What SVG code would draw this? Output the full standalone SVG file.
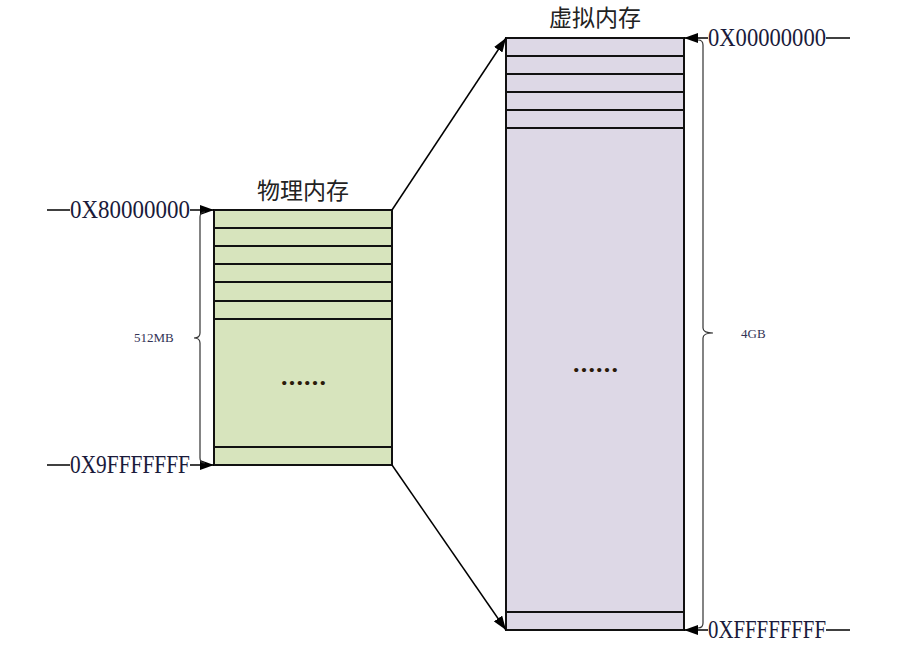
<svg xmlns="http://www.w3.org/2000/svg" width="903" height="648" viewBox="0 0 903 648">
<style>
.lbl{font-family:"Liberation Serif","Noto Sans CJK SC",serif;font-size:25px;fill:#1a1a3a}
.title{font-family:"Noto Sans CJK SC","Liberation Serif",sans-serif;font-size:23px;fill:#222}
.small{font-family:"Liberation Serif",serif;font-size:13px;fill:#333355}
.box line,.box rect{stroke:#111;stroke-width:2}
.brace{fill:none;stroke:#333;stroke-width:1.2}
.dots{font-family:"Liberation Serif",serif;font-size:26px;font-weight:bold;fill:#2a1a0a}
.conn{stroke:#000;stroke-width:1.5;fill:none}
</style>
<defs>
<marker id="ah2" markerWidth="14" markerHeight="10" refX="14" refY="5" orient="auto" markerUnits="userSpaceOnUse">
<path d="M0,0 L14,5 L0,10 Z" fill="#000"/>
</marker>
</defs>
<g id="physical" class="box">
<text class="title" x="303" y="199" text-anchor="middle">物理内存</text>
<rect x="214" y="210" width="178" height="255" fill="#D7E4BD"/>
<line x1="214" y1="228" x2="392" y2="228"/>
<line x1="214" y1="246" x2="392" y2="246"/>
<line x1="214" y1="264" x2="392" y2="264"/>
<line x1="214" y1="282" x2="392" y2="282"/>
<line x1="214" y1="301" x2="392" y2="301"/>
<line x1="214" y1="319" x2="392" y2="319"/>
<line x1="214" y1="447" x2="392" y2="447"/>
<text class="dots" x="281" y="385" textLength="45" lengthAdjust="spacing">......</text>
</g>
<g id="virtual" class="box">
<text class="title" x="595" y="26" text-anchor="middle">虚拟内存</text>
<rect x="506" y="38" width="178" height="592" fill="#DDD8E6"/>
<line x1="506" y1="56" x2="684" y2="56"/>
<line x1="506" y1="74" x2="684" y2="74"/>
<line x1="506" y1="92" x2="684" y2="92"/>
<line x1="506" y1="110" x2="684" y2="110"/>
<line x1="506" y1="128" x2="684" y2="128"/>
<line x1="506" y1="612" x2="684" y2="612"/>
<text class="dots" x="573" y="372" textLength="45" lengthAdjust="spacing">......</text>
</g>
<g id="label-80000000">
<line x1="47" y1="210" x2="70" y2="210" stroke="#000" stroke-width="1.5"/>
<text class="lbl" x="70" y="218" textLength="120" lengthAdjust="spacingAndGlyphs">0X80000000</text>
<line x1="190" y1="210" x2="214" y2="210" class="conn" marker-end="url(#ah2)"/>
</g>
<g id="label-9FFFFFFF">
<line x1="47" y1="465" x2="70" y2="465" stroke="#000" stroke-width="1.5"/>
<text class="lbl" x="70" y="473" textLength="120" lengthAdjust="spacingAndGlyphs">0X9FFFFFFF</text>
<line x1="190" y1="465" x2="214" y2="465" class="conn" marker-end="url(#ah2)"/>
</g>
<g id="label-00000000">
<line x1="708" y1="38" x2="684" y2="38" class="conn" marker-end="url(#ah2)"/>
<text class="lbl" x="708" y="46" textLength="118" lengthAdjust="spacingAndGlyphs">0X00000000</text>
<line x1="826" y1="38" x2="850" y2="38" stroke="#000" stroke-width="1.5"/>
</g>
<g id="label-FFFFFFFF">
<line x1="708" y1="630" x2="684" y2="630" class="conn" marker-end="url(#ah2)"/>
<text class="lbl" x="708" y="638" textLength="118" lengthAdjust="spacingAndGlyphs">0XFFFFFFFF</text>
<line x1="826" y1="630" x2="850" y2="630" stroke="#000" stroke-width="1.5"/>
</g>
<g id="brace-512">
<path class="brace" d="M205,212 Q200,212 200,217 L200,333 Q200,338 194,338 Q200,338 200,343 L200,458 Q200,463 205,463"/>
<text class="small" x="134" y="342">512MB</text>
</g>
<g id="brace-4gb">
<path class="brace" d="M698,40 Q703,40 703,45 L703,328 Q703,333 713,333 Q703,333 703,338 L703,623 Q703,628 698,628"/>
<text class="small" x="741" y="338">4GB</text>
</g>
<g id="connectors">
<line class="conn" x1="392" y1="210" x2="506" y2="38" marker-end="url(#ah2)"/>
<line class="conn" x1="392" y1="465" x2="506" y2="630" marker-end="url(#ah2)"/>
</g>
</svg>
